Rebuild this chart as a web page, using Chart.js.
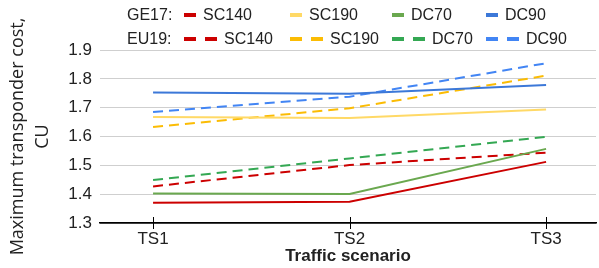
<!DOCTYPE html>
<html>
<head>
<meta charset="utf-8">
<script src="https://cdn.jsdelivr.net/npm/chart.js@4"></script>
<style>
    body { margin: 0; background: #fff; }
    #wrap { position: relative; width: 599px; height: 268px; }
    .legend { position: absolute; left: 0; top: 0; width: 599px; height: 50px;
        font-family: "Liberation Sans", Arial, sans-serif; font-size: 16px; color: #222; }
    .row { position: absolute; left: 0; height: 20px; line-height: 20px; white-space: nowrap; }
    .row .label { position: absolute; left: 127px; }
    .item { position: absolute; display: flex; align-items: center; }
    .mark { display: inline-block; width: 12px; height: 4px; }
    .gap { display: inline-block; width: 9px; }
    .item span.txt { margin-left: 7px; }
</style>
</head>
<body>
<div id="wrap">
    <canvas id="chart" width="599" height="268"></canvas>
    <div class="legend" id="legend"></div>
</div>
<script>
// Data
const xLabels = ['TS1', 'TS2', 'TS3'];
const seriesNames = ['SC140', 'SC190', 'DC70', 'DC90'];
const groupNames = ['GE17', 'EU19'];
const yTicks = [1.3, 1.4, 1.5, 1.6, 1.7, 1.8, 1.9];

const ge17SC140 = [1.370, 1.374, 1.512];
const ge17SC190 = [1.668, 1.664, 1.694];
const ge17DC70 = [1.402, 1.401, 1.557];
const ge17DC90 = [1.753, 1.748, 1.779];

const eu19SC140 = [1.427, 1.501, 1.544];
const eu19SC190 = [1.633, 1.698, 1.811];
const eu19DC70 = [1.449, 1.524, 1.599];
const eu19DC90 = [1.685, 1.738, 1.854];

// Styles
const solidColors = ['#cc0000', '#ffd966', '#6aa84f', '#3c78d8'];
const dashColors = ['#cc0000', '#fbbc04', '#34a853', '#4285f4'];
const legendLeft = [184, 290, 392, 486];

const ge17 = [ge17SC140, ge17SC190, ge17DC70, ge17DC90];
const eu19 = [eu19SC140, eu19SC190, eu19DC70, eu19DC90];

function toPoints(values) {
    return values.map((v, i) => ({ x: i + 1, y: v }));
}

const datasets = [];
seriesNames.forEach((name, i) => {
    datasets.push({
        label: groupNames[0] + ' ' + name,
        data: toPoints(ge17[i]),
        borderColor: solidColors[i],
        borderWidth: 2,
        pointRadius: 0,
        tension: 0
    });
});
seriesNames.forEach((name, i) => {
    datasets.push({
        label: groupNames[1] + ' ' + name,
        data: toPoints(eu19[i]),
        borderColor: dashColors[i],
        borderWidth: 2,
        borderDash: [10, 6],
        pointRadius: 0,
        tension: 0
    });
});

// Legend (two rows, GE17 solid / EU19 dashed)
const legend = document.getElementById('legend');
[[groupNames[0], solidColors, false, 5], [groupNames[1], dashColors, true, 29]].forEach(([group, colors, dashed, top]) => {
    const row = document.createElement('div');
    row.className = 'row';
    row.style.top = top + 'px';
    row.innerHTML = `<span class="label">${group}:</span>`;
    seriesNames.forEach((name, i) => {
        const item = document.createElement('div');
        item.className = 'item';
        item.style.left = legendLeft[i] + 'px';
        item.style.height = '20px';
        let marks = `<span class="mark" style="background:${colors[i]}"></span>`;
        if (dashed) {
            marks += `<span class="gap"></span><span class="mark" style="background:${colors[i]}"></span>`;
        }
        item.innerHTML = marks + `<span class="txt">${name}</span>`;
        row.appendChild(item);
    });
    legend.appendChild(row);
});

// Tick marks crossing the x axis
const crossTicks = {
    id: 'crossTicks',
    afterDraw(chart) {
        const { ctx, scales: { x } } = chart;
        const yBase = chart.chartArea.bottom;
        ctx.save();
        ctx.strokeStyle = '#000';
        ctx.lineWidth = 1;
        x.ticks.forEach(t => {
            const px = Math.round(x.getPixelForValue(t.value)) + 0.5;
            ctx.beginPath();
            ctx.moveTo(px, yBase - 6);
            ctx.lineTo(px, yBase + 6);
            ctx.stroke();
        });
        ctx.restore();
    }
};

const ctx = document.getElementById('chart').getContext('2d');
new Chart(ctx, {
    type: 'line',
    data: { datasets },
    options: {
        responsive: false,
        animation: false,
        layout: { padding: { top: 50, right: 3, left: 0, bottom: 0 } },
        plugins: { legend: { display: false }, tooltip: { enabled: false } },
        scales: {
            x: {
                type: 'linear',
                min: 0.73,
                max: 3.254,
                afterBuildTicks: (scale) => {
                    scale.ticks = xLabels.map((_, i) => ({ value: i + 1 }));
                },
                afterFit: (scale) => { scale.height = 45; },
                grid: { display: false, drawTicks: false },
                border: { display: true, color: '#000', width: 1.5 },
                ticks: {
                    padding: 6,
                    color: '#222',
                    font: { family: '"Liberation Sans", Arial', size: 17 },
                    callback: (v) => xLabels[v - 1]
                },
                title: {
                    display: true,
                    text: 'Traffic scenario',
                    color: '#222',
                    padding: { top: 0, bottom: 1 },
                    font: { family: '"Liberation Sans", Arial', size: 17, weight: 'bold' }
                }
            },
            y: {
                min: yTicks[0],
                max: yTicks[yTicks.length - 1],
                afterBuildTicks: (scale) => {
                    scale.ticks = yTicks.map(v => ({ value: v }));
                },
                afterFit: (scale) => { scale.width = 100; },
                grid: {
                    drawTicks: false,
                    color: (c) => c.tick && c.tick.value === yTicks[0] ? '#000' : '#cfcfcf',
                    lineWidth: (c) => c.tick && c.tick.value === yTicks[0] ? 1.5 : 1
                },
                border: { display: false },
                ticks: {
                    padding: 8,
                    color: '#222',
                    font: { family: '"Liberation Sans", Arial', size: 17 },
                    callback: (v) => v.toFixed(1)
                },
                title: {
                    display: true,
                    text: ['Maximum transponder cost,', 'CU'],
                    color: '#222',
                    padding: { top: 6, bottom: 0 },
                    font: { family: '"Open Sans"', size: 18, lineHeight: 1.35 }
                }
            }
        }
    },
    plugins: [crossTicks]
});
</script>
</body>
</html>
